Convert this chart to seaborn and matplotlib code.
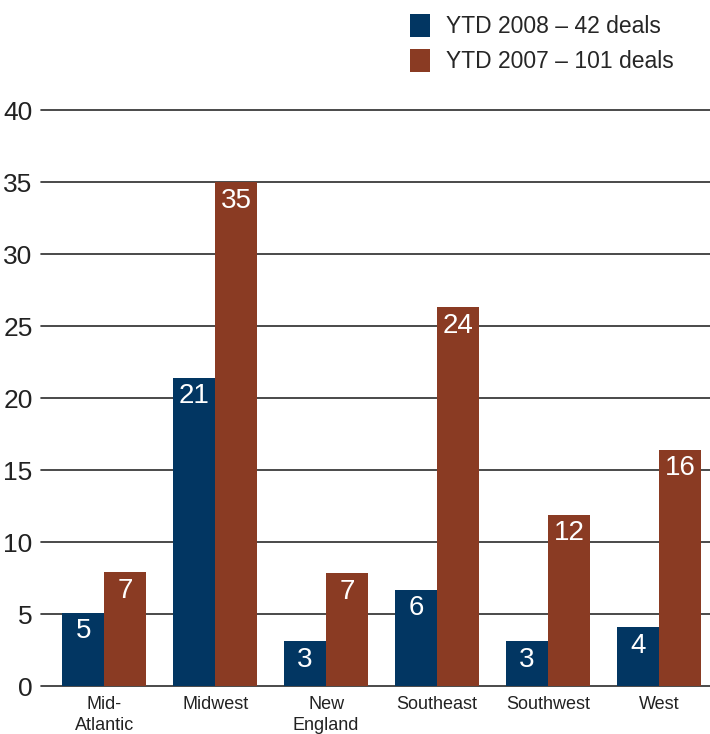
import pandas as pd
import matplotlib.pyplot as plt
import seaborn as sns
from matplotlib.patches import Patch

# values
regions = ["Mid-\nAtlantic", "Midwest", "New\nEngland", "Southeast", "Southwest", "West"]
series = ["YTD 2008 \u2013 42 deals", "YTD 2007 \u2013 101 deals"]
ytd_2008 = [5.1, 21.4, 3.1, 6.7, 3.1, 4.1]
ytd_2007 = [7.9, 35.0, 7.85, 26.3, 11.9, 16.4]
labels_2008 = [5, 21, 3, 6, 3, 4]
labels_2007 = [7, 35, 7, 24, 12, 16]
colors = ["#023662", "#8A3B23"]

df = pd.DataFrame({
    "region": regions * 2,
    "series": [series[0]] * len(regions) + [series[1]] * len(regions),
    "value": ytd_2008 + ytd_2007,
})

sns.set_style("white")
plt.rcParams["font.family"] = ["Liberation Sans", "DejaVu Sans"]

fig = plt.figure(figsize=(7.10, 7.34), dpi=100)
ax = fig.add_axes([41 / 710, 48 / 734, 1 - 41 / 710, 576 / 734])

sns.barplot(data=df, x="region", y="value", hue="series", palette=colors,
            saturation=1, width=0.76, linewidth=0, ax=ax, legend=False)

# white value labels inside bar tops
for cont, labs in zip(ax.containers, [labels_2008, labels_2007]):
    for bar, lab in zip(cont, labs):
        ax.annotate(str(lab), (bar.get_x() + bar.get_width() / 2, bar.get_height()),
                    xytext=(0, -4), textcoords="offset points",
                    ha="center", va="top", color="white", fontsize=20)

ax.set_ylim(0, 40)
ax.set_xlim(-0.57, 5.46)
ax.set_yticks(range(0, 41, 5))
ax.yaxis.grid(True, color="#2b2b2b", linewidth=1.2)
ax.set_axisbelow(True)
for gl in ax.get_ygridlines():
    gl.set_clip_on(False)
for s in ax.spines.values():
    s.set_visible(False)
ax.tick_params(axis="y", length=0, pad=6, labelsize=19, colors="#222222")
ax.tick_params(axis="x", length=0, pad=7, labelsize=13, colors="#222222")
for t in ax.get_xticklabels():
    t.set_linespacing(1.35)
ax.set_xlabel("")
ax.set_ylabel("")

handles = [Patch(facecolor=c, edgecolor="none") for c in colors]
fig.legend(handles, series, loc="upper left", bbox_to_anchor=(410 / 710, 1 - 14 / 734),
           frameon=False, fontsize=16.5, handlelength=0.87, handleheight=1.15,
           handletextpad=0.7, labelspacing=0.47, borderpad=0, borderaxespad=0)

fig.savefig("out.png", dpi=100)
plt.close(fig)
